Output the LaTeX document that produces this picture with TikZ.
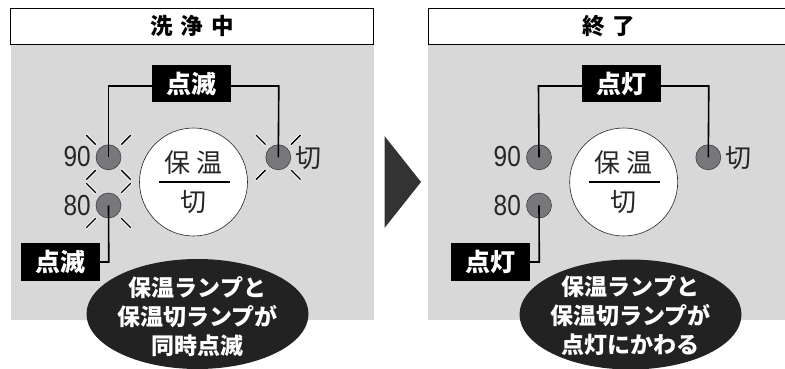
\documentclass[tikz,border=0pt]{standalone}
\usepackage{fontspec}
\setmainfont{Liberation Sans}[FakeStretch=0.84]
\newfontfamily\cjk{Noto Sans CJK JP}
\newfontfamily\cjkb{Noto Sans CJK JP Black}
\usetikzlibrary{shapes.geometric,calc}
\definecolor{panelgray}{HTML}{D8D8D8}
\definecolor{lampgray}{HTML}{77777C}
\definecolor{ovaldark}{HTML}{222222}
\tikzset{
  x=1pt,y=-1pt,
  panel/.style={fill=panelgray,draw=none},
  headbox/.style={draw=black,line width=0.9pt,fill=white,inner sep=0pt,font=\cjkb\fontsize{22.5}{22.5}\selectfont},
  lamp/.style={circle,draw=black!80,line width=0.5pt,fill=lampgray,minimum size=25pt,inner sep=0pt},
  dial/.style={circle,draw=black!85,line width=0.6pt,fill=white,minimum size=108pt,inner sep=0pt},
  tag/.style={fill=black,text=white,minimum width=79pt,minimum height=37.5pt,inner sep=0pt,font=\cjkb\fontsize{25}{25}\selectfont},
  oval/.style={ellipse,fill=ovaldark,draw=none,minimum width=222pt,minimum height=110pt,inner sep=0pt},
  ovaltext/.style={text=white,inner sep=0pt,align=center,font=\cjkb\fontsize{23}{29}\selectfont},
  lead/.style={draw=black,line width=1.6pt},
  lbl/.style={inner sep=0pt,text=black!85,font=\fontsize{29}{29}\selectfont},
  lblj/.style={inner sep=0pt,text=black!85,font=\cjk\fontsize{26}{26}\selectfont},
  sparkh/.style={draw=white,line width=3pt},
  sparkb/.style={draw=black,line width=1.4pt},
}
\newcommand{\sparks}[1]{%
  \foreach \a in {45,135,225,315}{
    \draw[sparkh] ($(#1)+(\a:17.5pt)$) -- ($(#1)+(\a:32pt)$);
    \draw[sparkb] ($(#1)+(\a:18pt)$) -- ($(#1)+(\a:31.5pt)$);
  }}
\begin{document}
\begin{tikzpicture}
\useasboundingbox (0,0) rectangle (785,369);
\fill[white] (0,0) rectangle (785,369);
% left panel
\node[panel,minimum width=363pt,minimum height=275pt,inner sep=0pt] (lp) at (192.5,182.5) {};
\node[headbox,minimum width=363pt,minimum height=36.5pt] (lh) at (192,26.3) {洗\hspace{8pt}浄\hspace{8pt}中};
\coordinate (l90) at (108.5,157.3);
\coordinate (l80) at (108.5,205.5);
\coordinate (lk) at (278.3,157.3);
\sparks{l90}\sparks{l80}\sparks{lk}
\node[lamp] (a90) at (l90) {};
\node[lamp] (a80) at (l80) {};
\node[lamp] (ak) at (lk) {};
\node[lbl,anchor=east] (t90) at (91,157) {90};
\node[lbl,anchor=east] (t80) at (91,206) {80};
\node[lblj,anchor=west] (tk) at (295,158) {切};
\node[dial] (ld) at (193.5,182) {};
\node[lblj] (ld1) at (193.5,162.5) {保\hspace{6pt}温};
\draw[black,line width=1.5pt] (158.5,182) -- (229.5,182);
\node[lblj] (ld2) at (193.5,202) {切};
\node[tag] (lt1) at (191.5,83.5) {点滅};
\node[tag] (lt2) at (60.5,262) {点滅};
\draw[lead] (lt1.west|-0,86) -- (108.5,86) -- (a90.center);
\draw[lead] (lt1.east|-0,86) -- (278.8,86) -- (ak.center);
\draw[lead] (lt2.east) -- (108.8,262) -- (a80.center);
\node[oval] (lo) at (197.5,314) {};
\node[ovaltext] (lot) at (197.5,317) {保温ランプと\\保温切ランプが\\同時点滅};
% arrow
\fill[black!80] (384.5,136) -- (421,182) -- (384.5,228) -- cycle;
% right panel
\node[panel,minimum width=357pt,minimum height=275pt,inner sep=0pt] (rp) at (606.5,182.5) {};
\node[headbox,minimum width=362pt,minimum height=36.5pt] (rh) at (609,26.3) {終\hspace{8pt}了};
\node[lamp] (b90) at (539,157.3) {};
\node[lamp] (b80) at (539,205.5) {};
\node[lamp] (bk) at (708.3,157.3) {};
\node[lbl,anchor=east] (u90) at (521,157) {90};
\node[lbl,anchor=east] (u80) at (521,206) {80};
\node[lblj,anchor=west] (uk) at (725,158) {切};
\node[dial] (rd) at (623.7,182) {};
\node[lblj] (rd1) at (623.7,162.5) {保\hspace{6pt}温};
\draw[black,line width=1.5pt] (589,182) -- (660,182);
\node[lblj] (rd2) at (623.7,202) {切};
\node[tag] (rt1) at (621.5,83.5) {点灯};
\node[tag] (rt2) at (490.5,262) {点灯};
\draw[lead] (rt1.west|-0,86) -- (538.5,86) -- (b90.center);
\draw[lead] (rt1.east|-0,86) -- (708.8,86) -- (bk.center);
\draw[lead] (rt2.east) -- (539.3,262) -- (b80.center);
\node[oval] (ro) at (630.5,314.5) {};
\node[ovaltext] (rot) at (630.5,315.5) {保温ランプと\\保温切ランプが\\点灯にかわる};
\end{tikzpicture}
\end{document}
